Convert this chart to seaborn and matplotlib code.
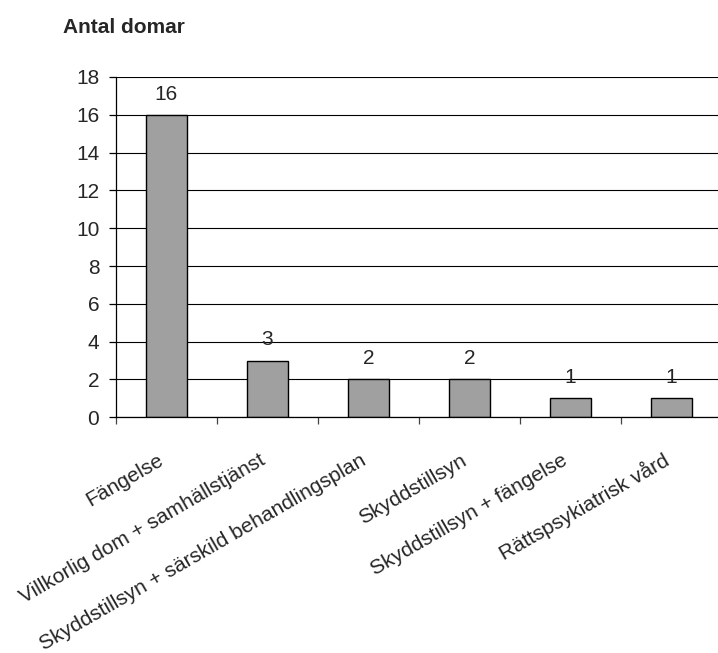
import numpy as np
import matplotlib
matplotlib.use("Agg")
import matplotlib.pyplot as plt
import matplotlib.transforms as mtransforms
import seaborn as sns

categories = [
    "Fängelse",
    "Villkorlig dom + samhällstjänst",
    "Skyddstillsyn + särskild behandlingsplan",
    "Skyddstillsyn",
    "Skyddstillsyn + fängelse",
    "Rättspsykiatrisk vård",
]
values = [16, 3, 2, 2, 1, 1]
y_ticks = list(range(0, 19, 2))

sns.set_theme(style="white")
plt.rcParams["font.family"] = ["Liberation Sans", "DejaVu Sans"]

W, H = 718, 653
fig = plt.figure(figsize=(W / 100, H / 100), dpi=100)
ax = fig.add_axes([116 / W, 1 - 417.3 / H, (721.7 - 116) / W, (417.3 - 77) / H])

sns.barplot(x=categories, y=values, color="#a0a0a0", edgecolor="black",
            linewidth=1.0, width=0.41, saturation=1, ax=ax)

ax.set_xlim(-0.5, len(categories) - 0.5)
ax.set_ylim(0, 18)
ax.set_yticks(y_ticks)
ax.set_xlabel("")
ax.set_ylabel("")

# horizontal gridlines behind the bars
ax.set_axisbelow(True)
ax.yaxis.grid(True, color="black", linewidth=0.8)
ax.xaxis.grid(False)

for side in ("top", "right"):
    ax.spines[side].set_visible(False)
for side in ("left", "bottom"):
    ax.spines[side].set_color("black")
    ax.spines[side].set_linewidth(0.9)

# category boundary ticks on the x axis
ax.set_xticks(np.arange(-0.5, len(categories), 1), minor=True)
ax.tick_params(axis="x", which="minor", length=5, width=0.9, color="#444444",
               direction="out", bottom=True)
ax.tick_params(axis="x", which="major", length=0, pad=30, labelsize=15)
ax.tick_params(axis="y", which="major", length=5, width=0.9, color="black",
               direction="out", left=True, pad=7, labelsize=15)

shift = mtransforms.ScaledTranslation(-4 / 100, 0, fig.dpi_scale_trans)
for lbl in ax.get_xticklabels():
    lbl.set_rotation(30)
    lbl.set_ha("right")
    lbl.set_va("center")
    lbl.set_rotation_mode("anchor")
    lbl.set_transform(lbl.get_transform() + shift)

ax.bar_label(ax.containers[0], labels=[str(v) for v in values],
             padding=8, fontsize=15)

fig.text(62.7 / W, 1 - 33 / H, "Antal domar", fontsize=15,
         fontweight="bold", va="baseline", ha="left")

fig.savefig("out.png", dpi=100, facecolor="white")
